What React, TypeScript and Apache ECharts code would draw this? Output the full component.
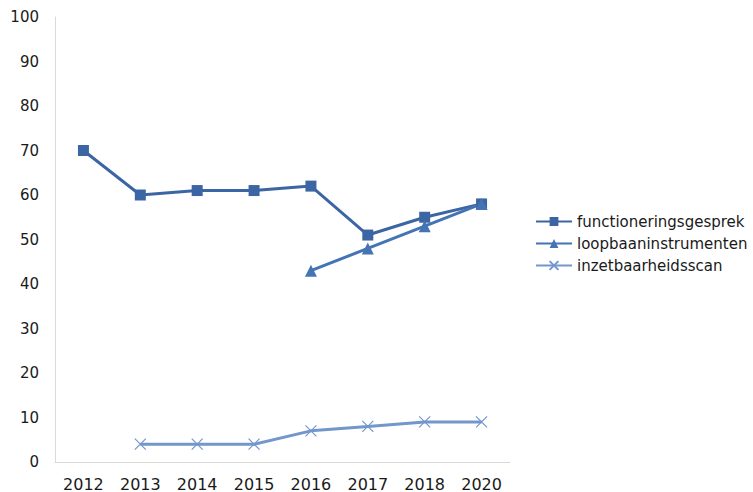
import React, { useEffect, useRef } from "react";
import * as echarts from "echarts";

const years = ["2012", "2013", "2014", "2015", "2016", "2017", "2018", "2020"];
const functioneringsgesprek = [70, 60, 61, 61, 62, 51, 55, 58];
const loopbaaninstrumenten = [null, null, null, null, 43, 48, 53, 58];
const inzetbaarheidsscan = [null, 4, 4, 4, 7, 8, 9, 9];

const FONT = "DejaVu Sans, Verdana, sans-serif";
const crossPath = "path://M0,0L10,10M10,0L0,10";

export default function App() {
  const ref = useRef<HTMLDivElement>(null);
  useEffect(() => {
    const chart = echarts.init(ref.current!, null, { renderer: "svg" });
    chart.setOption({
      animation: false,
      backgroundColor: "#ffffff",
      grid: { left: 55, right: 243, top: 17, bottom: 27, containLabel: false },
      legend: {
        orient: "vertical",
        left: 535,
        top: 214,
        padding: 0,
        itemWidth: 36,
        itemHeight: 11,
        itemGap: 7,
        textStyle: { fontFamily: FONT, fontSize: 15, color: "#1a1a1a" },
        data: ["functioneringsgesprek", "loopbaaninstrumenten", "inzetbaarheidsscan"],
      },
      xAxis: {
        type: "category",
        data: years,
        boundaryGap: true,
        axisLine: { show: true, lineStyle: { color: "#d9d9d9", width: 1 } },
        axisTick: { show: false },
        axisLabel: { fontFamily: FONT, fontSize: 16, color: "#1a1a1a", margin: 14 },
        splitLine: { show: false },
      },
      yAxis: {
        type: "value",
        min: 0,
        max: 100,
        interval: 10,
        axisLine: { show: true, lineStyle: { color: "#d9d9d9", width: 1 } },
        axisTick: { show: false },
        axisLabel: { fontFamily: FONT, fontSize: 15, color: "#1a1a1a", margin: 16 },
        splitLine: { show: false },
      },
      series: [
        {
          name: "functioneringsgesprek",
          type: "line",
          data: functioneringsgesprek,
          symbol: "rect",
          symbolSize: 11,
          lineStyle: { color: "#3c66a3", width: 3 },
          itemStyle: { color: "#3c66a3" },
        },
        {
          name: "loopbaaninstrumenten",
          type: "line",
          data: loopbaaninstrumenten,
          symbol: "triangle",
          symbolSize: 12,
          lineStyle: { color: "#4474b3", width: 3 },
          itemStyle: { color: "#4474b3" },
        },
        {
          name: "inzetbaarheidsscan",
          type: "line",
          data: inzetbaarheidsscan,
          symbol: crossPath,
          symbolSize: 11,
          lineStyle: { color: "#7396cc", width: 3 },
          itemStyle: { color: "#7396cc", borderColor: "#7396cc", borderWidth: 1.2 },
        },
      ],
    });
    return () => chart.dispose();
  }, []);
  return <div ref={ref} style={{ width: 753, height: 492, position: "absolute", left: 0, top: 0 }} />;
}
